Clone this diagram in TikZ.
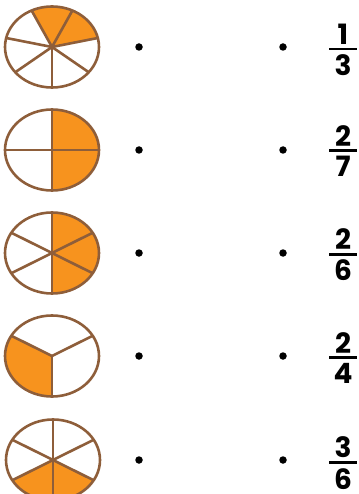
\documentclass[tikz,border=0pt]{standalone}
\usepackage{fontspec}
\setmainfont{Poppins}
\definecolor{piebrown}{HTML}{8E5E3A}
\definecolor{pieorange}{HTML}{F7931E}
\newcommand{\fracnum}[2]{\vbox{\offinterlineskip\halign{\hfil##\hfil\cr
  #1\cr\noalign{\kern3pt}\rule{28pt}{2.8pt}\cr\noalign{\kern4.5pt}#2\cr}}}

\begin{document}
\begin{tikzpicture}[x=1pt, y=1pt,
  rim/.style = {draw=piebrown, line width=2.6pt},
  part/.style = {fill=pieorange},
  dot/.style = {circle, fill=black, inner sep=0pt, minimum size=7.5pt},
  num/.style = {inner sep=0pt, font=\fontsize{28}{30}\selectfont\bfseries}]

\useasboundingbox (0,0) rectangle (358,-494);

\coordinate (p1) at (52,-47);
\coordinate (p2) at (52,-150);
\coordinate (p3) at (52,-253);
\coordinate (p4) at (52,-356);
\coordinate (p5) at (53,-460);

% shaded parts
\fill[part] (p1) -- ++(12.86:47 and 40.5) arc[start angle=12.86, end angle=115.71, x radius=47, y radius=40.5] -- cycle;
\fill[part] (p2) -- ++(-90:47 and 40.5) arc[start angle=-90, end angle=90, x radius=47, y radius=40.5] -- cycle;
\fill[part] (p3) -- ++(-90:47 and 40.5) arc[start angle=-90, end angle=90, x radius=47, y radius=40.5] -- cycle;
\fill[part] (p4) -- ++(150:47 and 40.5) arc[start angle=150, end angle=270, x radius=47, y radius=40.5] -- cycle;
\fill[part] (p5) -- ++(-150:47 and 40.5) arc[start angle=-150, end angle=-30, x radius=47, y radius=40.5] -- cycle;

% spokes and rims
\foreach \a in {-90,-38.57,12.86,64.29,115.71,167.14,218.57}
  \draw[rim] (p1) -- ++(\a:47 and 40.5);
\foreach \a in {0,90,180,270}
  \draw[rim] (p2) -- ++(\a:47 and 40.5);
\foreach \a in {30,90,150,210,270,330}
  \draw[rim] (p3) -- ++(\a:47 and 40.5);
\foreach \a in {30,150,270}
  \draw[rim] (p4) -- ++(\a:47 and 40.5);
\foreach \a in {30,90,150,210,270,330}
  \draw[rim] (p5) -- ++(\a:47 and 40.5);
\foreach \p in {p1,p2,p3,p4,p5}
  \draw[rim] (\p) ellipse[x radius=47, y radius=40.5];

\node[dot] (a1) at (139,-47) {};
\node[dot] (a2) at (139,-150) {};
\node[dot] (a3) at (139,-253) {};
\node[dot] (a4) at (139,-356) {};
\node[dot] (a5) at (139,-460) {};

\node[dot] (b1) at (283,-47) {};
\node[dot] (b2) at (283,-150) {};
\node[dot] (b3) at (283,-253) {};
\node[dot] (b4) at (283,-356) {};
\node[dot] (b5) at (283,-460) {};

\node[num] (f1) at (343,-50) {\fracnum{1}{3}};
\node[num] (f2) at (343,-151) {\fracnum{2}{7}};
\node[num] (f3) at (343,-255) {\fracnum{2}{6}};
\node[num] (f4) at (343,-358) {\fracnum{2}{4}};
\node[num] (f5) at (343,-463) {\fracnum{3}{6}};

\end{tikzpicture}
\end{document}
